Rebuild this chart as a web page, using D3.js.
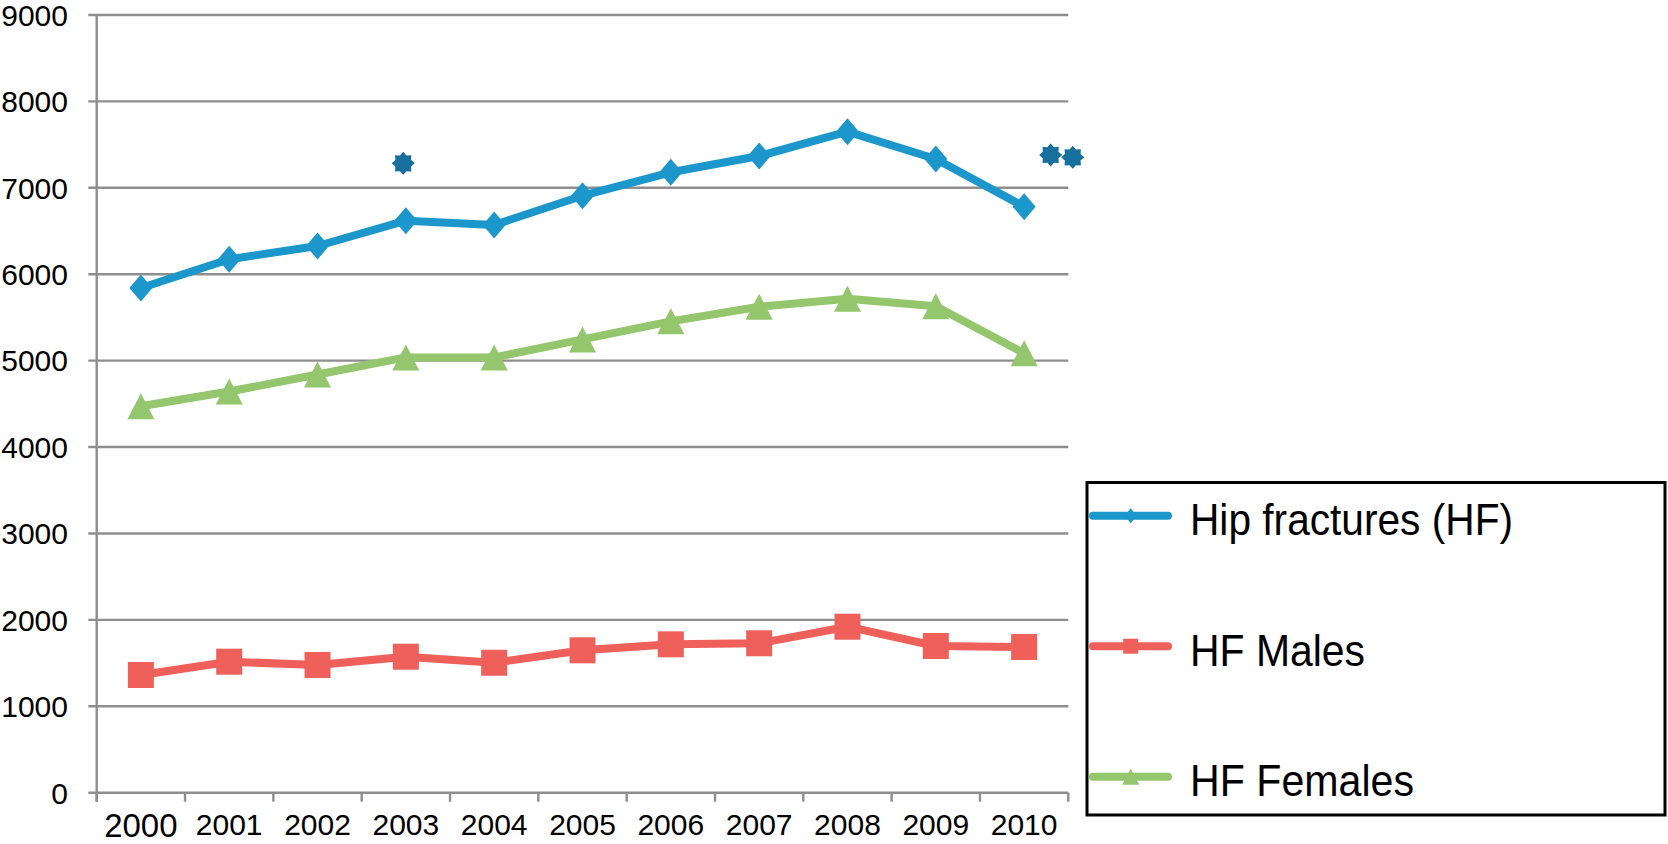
<!DOCTYPE html>
<html>
<head>
<meta charset="utf-8">
<script src="https://cdn.jsdelivr.net/npm/d3@7"></script>
<style>
  html, body { margin: 0; padding: 0; background: #fff; }
  svg { display: block; }
  text { font-family: "Liberation Sans", Arial, Helvetica, sans-serif; fill: #000; }
</style>
</head>
<body>
<svg id="chart" width="1668" height="844"></svg>
<script>
// ---- data ----
const years = ["2000","2001","2002","2003","2004","2005","2006","2007","2008","2009","2010"];
const hipFractures = [5840, 6173, 6327, 6620, 6570, 6909, 7180, 7368, 7650, 7334, 6782];
const hfMales      = [1362, 1516, 1478, 1574, 1504, 1648, 1717, 1729, 1921, 1698, 1686];
const hfFemales    = [4472, 4643, 4840, 5037, 5037, 5246, 5455, 5624, 5716, 5629, 5085];
const yTicks = [0, 1000, 2000, 3000, 4000, 5000, 6000, 7000, 8000, 9000];
const seriesNames = ["Hip fractures (HF)", "HF Males", "HF Females"];
// significance stars: [year, offset within band (fraction), value]
const starYears   = ["2003", "2010", "2010"];
const starOffsets = [-0.03, 0.30, 0.55];
const starValues  = [7284, 7380, 7353];

(function () {
// ---- layout ----
const svg = d3.select("#chart");
const plotLeft = 96.7, plotRight = 1068.3, plotTop = 15, plotBottom = 792.7;
const x = d3.scaleBand().domain(years).range([plotLeft, plotRight]).padding(0);
const y = d3.scaleLinear().domain([0, 9000]).range([plotBottom, plotTop]);
const bw = x.bandwidth();
const cx = d => x(d) + bw / 2;

const gridColor = "#8e8e8e";

// gridlines
svg.append("g").selectAll("line").data(yTicks).join("line")
  .attr("x1", plotLeft - 8.4).attr("x2", plotRight)
  .attr("y1", d => y(d)).attr("y2", d => y(d))
  .attr("stroke", gridColor).attr("stroke-width", 2.4);

// y axis line
svg.append("line")
  .attr("x1", plotLeft).attr("x2", plotLeft)
  .attr("y1", y(9000)).attr("y2", plotBottom + 9)
  .attr("stroke", gridColor).attr("stroke-width", 2.4);

// x ticks at band boundaries
const boundaries = years.map(d => x(d)).concat([plotRight]);
svg.append("g").selectAll("line").data(boundaries).join("line")
  .attr("x1", d => d).attr("x2", d => d)
  .attr("y1", plotBottom).attr("y2", plotBottom + 9)
  .attr("stroke", gridColor).attr("stroke-width", 2.4);

// y tick labels
svg.append("g").selectAll("text").data(yTicks).join("text")
  .attr("x", 68).attr("y", d => y(d) + 10.8)
  .attr("text-anchor", "end")
  .attr("font-size", 30)
  .text(d => d);

// x labels
svg.append("g").selectAll("text").data(years).join("text")
  .attr("x", d => cx(d))
  .attr("y", (d, i) => i === 0 ? 836.5 : 834.5)
  .attr("text-anchor", "middle")
  .attr("font-size", (d, i) => i === 0 ? 33 : 30)
  .text(d => d);

// ---- marker shapes ----
function diamondPath(w, h) {
  return `M0,${-h/2}L${w/2},0L0,${h/2}L${-w/2},0Z`;
}
function squarePath(s) {
  return `M${-s/2},${-s/2}H${s/2}V${s/2}H${-s/2}Z`;
}
function trianglePath(w, h) {
  return `M0,${-h/2}L${w/2},${h/2}L${-w/2},${h/2}Z`;
}
function starPath(r1, r2, n) {
  const pts = [];
  for (let i = 0; i < 2 * n; i++) {
    const a = Math.PI * i / n - Math.PI / 2;
    const r = i % 2 === 0 ? r1 : r2;
    pts.push([r * Math.cos(a), r * Math.sin(a)]);
  }
  return "M" + pts.map(p => p.join(",")).join("L") + "Z";
}

const series = [
  { name: seriesNames[0], values: hipFractures, color: "#1b97cc", marker: diamondPath(23, 27), legendMarker: diamondPath(12, 15) },
  { name: seriesNames[1], values: hfMales,      color: "#ef605a", marker: squarePath(26),      legendMarker: squarePath(15) },
  { name: seriesNames[2], values: hfFemales,    color: "#93c66d", marker: trianglePath(27, 26), legendMarker: trianglePath(17, 16) }
];

const line = d3.line().x(d => cx(d.year)).y(d => y(d.value));

// draw in order: females, males, hip (hip on top)
[series[2], series[1], series[0]].forEach(s => {
  const pts = years.map((yr, i) => ({ year: yr, value: s.values[i] }));
  const g = svg.append("g");
  g.append("path").datum(pts)
    .attr("d", line)
    .attr("fill", "none")
    .attr("stroke", s.color)
    .attr("stroke-width", 8)
    .attr("stroke-linejoin", "round");
  g.selectAll("path.m").data(pts).join("path")
    .attr("class", "m")
    .attr("d", s.marker)
    .attr("transform", d => `translate(${cx(d.year)},${y(d.value)})`)
    .attr("fill", s.color);
});

// stars
svg.append("g").selectAll("path").data(starYears.map((yr, i) => ({ year: yr, off: starOffsets[i], value: starValues[i] })))
  .join("path")
  .attr("d", starPath(11.5, 8.5, 8))
  .attr("transform", d => `translate(${x(d.year) + bw / 2 + d.off * bw},${y(d.value)})`)
  .attr("fill", "#176f9d");

// ---- legend ----
const lg = svg.append("g");
lg.append("rect")
  .attr("x", 1087).attr("y", 482.5)
  .attr("width", 578).attr("height", 332.5)
  .attr("fill", "none").attr("stroke", "#000").attr("stroke-width", 3);

const legendY = d3.scalePoint().domain(seriesNames).range([515.7, 776.7]);
const textLengths = [323, 175, 224];
series.forEach((s, i) => {
  const ly = legendY(s.name);
  lg.append("line")
    .attr("x1", 1093).attr("x2", 1168)
    .attr("y1", ly).attr("y2", ly)
    .attr("stroke", s.color).attr("stroke-width", 8)
    .attr("stroke-linecap", "round");
  lg.append("path")
    .attr("d", s.legendMarker)
    .attr("transform", `translate(1130.7,${ly})`)
    .attr("fill", s.color);
  lg.append("text")
    .attr("x", 1190).attr("y", ly + 19.5)
    .attr("font-size", 44)
    .attr("textLength", textLengths[i])
    .attr("lengthAdjust", "spacingAndGlyphs")
    .text(s.name);
});
})();
</script>
</body>
</html>
